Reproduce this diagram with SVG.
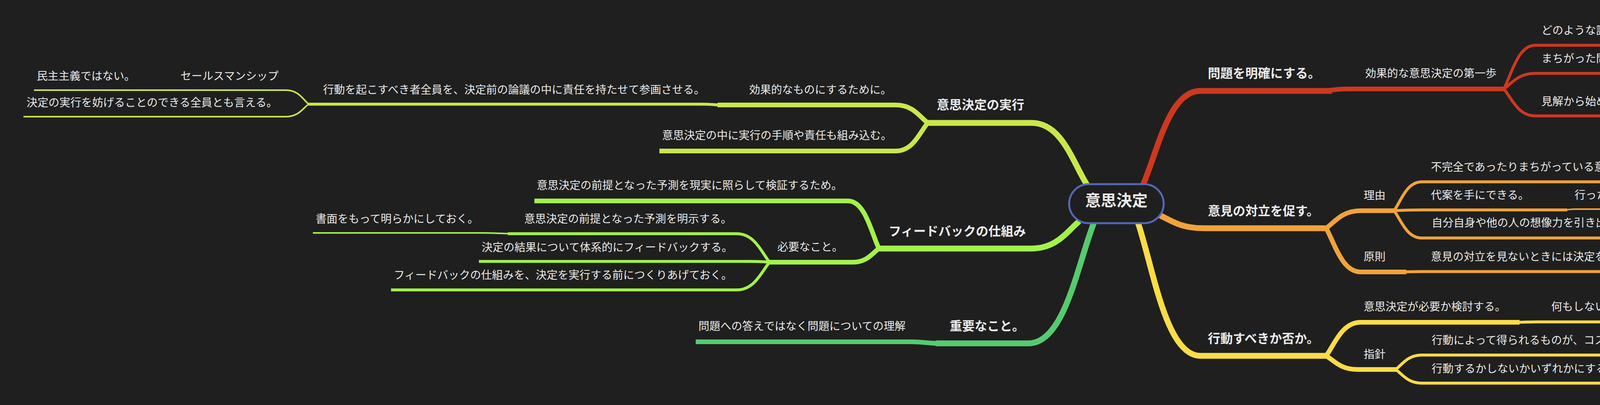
<svg xmlns="http://www.w3.org/2000/svg" width="5554" height="1038" viewBox="0 0 5554 1038">
<style>
text{font-family:"Noto Sans CJK JP","Noto Sans",sans-serif;fill:#ececec}
.t{font-size:28px}
.m{font-size:32px;font-weight:bold}
.c{font-size:40px;font-weight:bold}
path{fill:none;stroke-linecap:butt;stroke-linejoin:round}
.red{stroke:#cd3820}.org{stroke:#f0a33a}.yel{stroke:#fadc46}
.yg{stroke:#c8e84a}.lime{stroke:#a2f24a}.grn{stroke:#55cb6f}
.w15{stroke-width:15}.w12{stroke-width:12}.w7{stroke-width:7.5}.w4{stroke-width:4}
</style>
<rect width="5554" height="1038" fill="#1f1f1f"/>
<g id="connectors">
<path class="red w15" d="M2926,474 C2963,390 2992,233 3073,233 L3410,233"/>
<path class="red w12" d="M3395,233 C3409,231 3420,228 3450,228 L3852,228"/>
<path class="red w7" d="M3850,228 C3870,189 3886,116 3930,116 L4570,116"/>
<path class="red w7" d="M3850,228 C3870,214 3886,188 3930,188 L4505,188"/>
<path class="red w4" d="M4490,188 C4510,188 4520,186 4550,186 L4939,186"/>
<path class="red w7" d="M3850,228 C3870,252 3886,297 3930,297 L4190,297"/>
<path class="red w4" d="M4188,297 C4208,285 4224,262 4268,262 L4603,262"/>
<path class="red w4" d="M4188,297 C4208,309 4224,330 4268,330 L5049,330"/>
<path class="org w15" d="M2965,550 C2994,562 3018,585 3082,585 L3400,585"/>
<path class="org w12" d="M3395,585 C3417,569 3435,540 3484,540 L3572,540"/>
<path class="org w7" d="M3569,540 C3587,514 3601,466 3640,466 L4538,466"/>
<path class="org w7" d="M3569,540 C3587,539 3601,538 3640,538 L4012,538"/>
<path class="org w4" d="M4000,538 C4012,538 4018,536 4035,536 L5494,536"/>
<path class="org w7" d="M3569,540 C3587,565 3601,610 3640,610 L4344,610"/>
<path class="org w12" d="M3395,585 C3417,624 3435,697 3484,697 L3600,697"/>
<path class="org w7" d="M3590,697 C3605,697 3615,696 3640,696 L4260,696"/>
<path class="yel w15" d="M2913,570 C2953,690 2985,912 3073,912 L3400,912"/>
<path class="yel w12" d="M3395,912 C3417,882 3435,826 3484,826 L3890,826"/>
<path class="yel w7" d="M3880,826 C3900,826 3910,825 3935,825 L4500,825"/>
<path class="yel w12" d="M3395,912 C3415,924 3431,947 3475,947 L3576,947"/>
<path class="yel w7" d="M3573,947 C3590,934 3603,910 3640,910 L4624,910"/>
<path class="yel w7" d="M3573,947 C3590,959 3603,982 3640,982 L4160,982"/>
<path class="yel w4" d="M4150,982 C4170,982 4180,980 4210,980 L4740,980"/>
<path class="yg w15" d="M2783,474 C2747,418 2719,315 2641,315 L2370,315"/>
<path class="yg w12" d="M2375,315 C2354,299 2338,269 2293,269 L1837,269"/>
<path class="yg w7" d="M1845,269 C1830,269 1820,267 1800,267 L790,267"/>
<path class="yg w4" d="M790,267 C775,254 764,231 732,231 L440,231"/>
<path class="yg w4" d="M450,231 L87,231"/>
<path class="yg w4" d="M790,267 C775,278 764,299 732,299 L60,299"/>
<path class="yg w12" d="M2375,315 C2354,340 2338,387 2293,387 L1688,387"/>
<path class="lime w15" d="M2763,567 C2732,592 2707,637 2639,637 L2245,637"/>
<path class="lime w12" d="M2250,637 C2230,594 2214,515 2171,515 L1368,515"/>
<path class="lime w12" d="M2250,637 C2233,649 2220,672 2184,672 L1965,672"/>
<path class="lime w7" d="M1970,672 C1949,646 1932,599 1886,599 L1300,599"/>
<path class="lime w4" d="M1314,599 C1290,599 1270,597 1240,597 L801,597"/>
<path class="lime w7" d="M1975,672 C1955,671 1940,670 1920,670 L1226,670"/>
<path class="lime w7" d="M1970,672 C1949,697 1932,743 1886,743 L1001,743"/>
<path class="grn w15" d="M2800,572 C2758,680 2725,880 2633,880 L2395,880"/>
<path class="grn w12" d="M2402,880 C2380,880 2360,876 2332,876 L1781,876"/>
</g>
<g id="center">
<rect x="2737" y="472" width="242" height="100" rx="50" fill="#1f1f1f" stroke="#5468b8" stroke-width="5"/>
<text class="c" x="2858" y="528" text-anchor="middle">意思決定</text>
</g>
<g id="n-mondai"><text class="m" x="3092" y="199">問題を明確にする。</text></g>
<g id="n-daiippo"><text class="t" x="3495" y="198">効果的な意思決定の第一歩</text></g>
<g id="n-ninshiki"><text class="t" x="3946" y="88">どのような認識の仕方があるかを明らかにする。</text></g>
<g id="n-yugai"><text class="t" x="3946" y="160">まちがった問題に対する正しい答えは有害</text></g>
<g id="n-minori"><text class="t" x="4593" y="160">実りがないだけではない。</text></g>
<g id="n-kenkai"><text class="t" x="3946" y="270">見解から始める。</text></g>
<g id="n-shorei"><text class="t" x="4285" y="236">異なる見解を奨励する。</text></g>
<g id="n-datousei"><text class="t" x="4285" y="303">見解を出すものに、妥当性を徹底的に考えることを求める。</text></g>
<g id="n-tairitsu"><text class="m" x="3092" y="552">意見の対立を促す。</text></g>
<g id="n-riyu"><text class="t" x="3491" y="511">理由</text></g>
<g id="n-fukanzen"><text class="t" x="3663" y="438">不完全であったりまちがっている意見によりだまされることを防ぐ。</text></g>
<g id="n-daian"><text class="t" x="3663" y="510">代案を手にできる。</text></g>
<g id="n-tohou"><text class="t" x="4031" y="510">行った意思決定が実行の段階でまちがっていたり、不完全であることが明らかになったとき、途方に暮れずに済む。</text></g>
<g id="n-souzou"><text class="t" x="3665" y="581">自分自身や他の人の想像力を引き出すことができる。</text></g>
<g id="n-gensoku"><text class="t" x="3491" y="668">原則</text></g>
<g id="n-minai"><text class="t" x="3663" y="668">意見の対立を見ないときには決定を行わない。</text></g>
<g id="n-koudou"><text class="m" x="3092" y="879">行動すべきか否か。</text></g>
<g id="n-hitsuyou"><text class="t" x="3491" y="796">意思決定が必要か検討する。</text></g>
<g id="n-nanimo"><text class="t" x="3971" y="796">何もしないことを決定するのも1つの決定</text></g>
<g id="n-shishin"><text class="t" x="3491" y="918">指針</text></g>
<g id="n-cost"><text class="t" x="3665" y="882">行動によって得られるものが、コストやリスクよりも大きければ行動する。</text></g>
<g id="n-izureka"><text class="t" x="3665" y="955">行動するかしないかいずれかにする。</text></g>
<g id="n-dakyou"><text class="t" x="4254" y="955">妥協したり二股をかけたりはしない。</text></g>
<g id="n-jikkou"><text class="m" x="2398" y="280">意思決定の実行</text></g>
<g id="n-kouka"><text class="t" x="1918" y="240">効果的なものにするために。</text></g>
<g id="n-sankaku"><text class="t" x="827" y="240">行動を起こすべき者全員を、決定前の論議の中に責任を持たせて参画させる。</text></g>
<g id="n-sales"><text class="t" x="462" y="205">セールスマンシップ</text></g>
<g id="n-minshu"><text class="t" x="94" y="205">民主主義ではない。</text></g>
<g id="n-samatage"><text class="t" x="68" y="273">決定の実行を妨げることのできる全員とも言える。</text></g>
<g id="n-kumikomu"><text class="t" x="1695" y="357">意思決定の中に実行の手順や責任も組み込む。</text></g>
<g id="n-feedback"><text class="m" x="2275" y="604">フィードバックの仕組み</text></g>
<g id="n-kenshou"><text class="t" x="1374" y="485">意思決定の前提となった予測を現実に照らして検証するため。</text></g>
<g id="n-hitsuyounakoto"><text class="t" x="1990" y="643">必要なこと。</text></g>
<g id="n-meiji"><text class="t" x="1342" y="571">意思決定の前提となった予測を明示する。</text></g>
<g id="n-shomen"><text class="t" x="808" y="571">書面をもって明らかにしておく。</text></g>
<g id="n-kekka"><text class="t" x="1233" y="644">決定の結果について体系的にフィードバックする。</text></g>
<g id="n-shikumi"><text class="t" x="1008" y="715">フィードバックの仕組みを、決定を実行する前につくりあげておく。</text></g>
<g id="n-juuyou"><text class="m" x="2431" y="847">重要なこと。</text></g>
<g id="n-rikai"><text class="t" x="1788" y="846">問題への答えではなく問題についての理解</text></g>
</svg>
